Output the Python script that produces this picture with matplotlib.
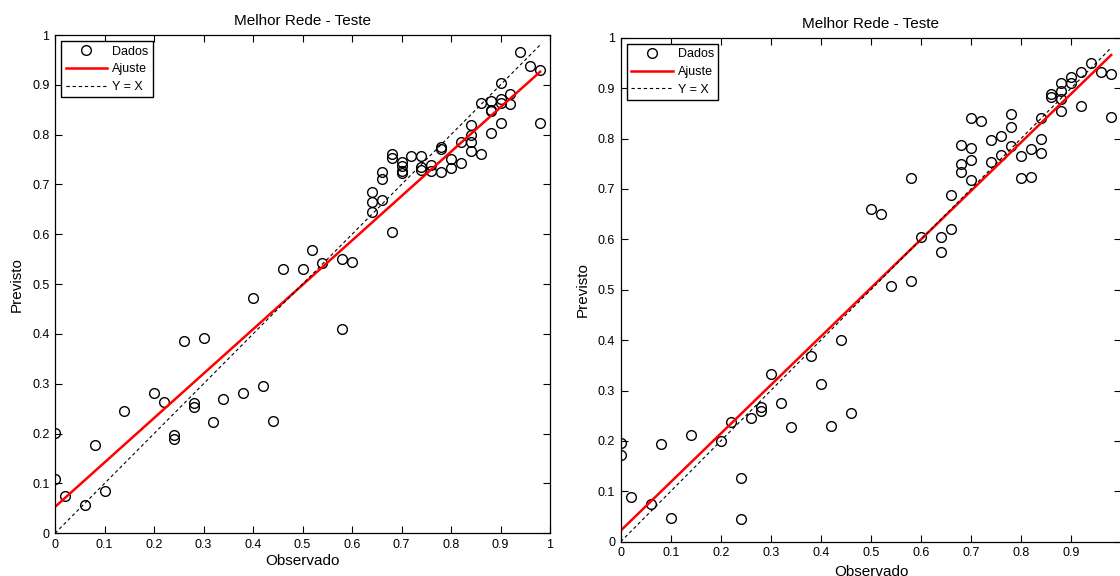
import numpy as np
import matplotlib
matplotlib.use("Agg")
import matplotlib.pyplot as plt

plt.rcParams['font.family'] = ['Liberation Sans', 'DejaVu Sans']

# painel esquerdo
obs_esq = [0.00, 0.00, 0.02, 0.06, 0.10, 0.08, 0.14, 0.20, 0.22, 0.24,
           0.24, 0.26, 0.30, 0.28, 0.28, 0.32, 0.34, 0.38, 0.40, 0.42,
           0.44, 0.58, 0.46, 0.50, 0.52, 0.54, 0.58, 0.60, 0.68, 0.64,
           0.64, 0.64, 0.66, 0.66, 0.66, 0.68, 0.68, 0.70, 0.70, 0.70,
           0.70, 0.72, 0.74, 0.74, 0.74, 0.76, 0.76, 0.78, 0.78, 0.78,
           0.80, 0.80, 0.82, 0.82, 0.84, 0.84, 0.84, 0.84, 0.86, 0.86,
           0.88, 0.88, 0.88, 0.88, 0.90, 0.90, 0.90, 0.90, 0.92, 0.92,
           0.94, 0.96, 0.98, 0.98]
prev_esq = [0.202, 0.109, 0.075, 0.057, 0.085, 0.177, 0.245, 0.282, 0.264, 0.197,
            0.189, 0.385, 0.392, 0.262, 0.254, 0.223, 0.270, 0.282, 0.472, 0.296,
            0.225, 0.410, 0.531, 0.531, 0.568, 0.543, 0.551, 0.544, 0.605, 0.685,
            0.664, 0.644, 0.669, 0.725, 0.711, 0.762, 0.753, 0.746, 0.738, 0.728,
            0.724, 0.758, 0.758, 0.735, 0.730, 0.740, 0.728, 0.776, 0.772, 0.726,
            0.751, 0.733, 0.785, 0.743, 0.820, 0.800, 0.786, 0.768, 0.863, 0.762,
            0.867, 0.850, 0.848, 0.804, 0.903, 0.871, 0.863, 0.824, 0.882, 0.861,
            0.965, 0.938, 0.930, 0.824]
ajuste_esq = (0.891, 0.053)  # inclinacao, intercepto

# painel direito
obs_dir = [0.00, 0.00, 0.02, 0.06, 0.10, 0.08, 0.14, 0.20, 0.22, 0.24,
           0.24, 0.26, 0.28, 0.28, 0.30, 0.32, 0.34, 0.38, 0.40, 0.42,
           0.44, 0.46, 0.54, 0.58, 0.50, 0.52, 0.58, 0.60, 0.64, 0.64,
           0.66, 0.66, 0.68, 0.68, 0.68, 0.70, 0.70, 0.70, 0.70, 0.72,
           0.74, 0.74, 0.76, 0.76, 0.78, 0.78, 0.78, 0.80, 0.80, 0.82,
           0.82, 0.84, 0.84, 0.84, 0.86, 0.86, 0.88, 0.88, 0.88, 0.88,
           0.90, 0.90, 0.92, 0.92, 0.94, 0.96, 0.98, 0.98]
prev_dir = [0.196, 0.173, 0.089, 0.075, 0.048, 0.194, 0.212, 0.200, 0.237, 0.126,
            0.046, 0.246, 0.267, 0.259, 0.333, 0.275, 0.228, 0.368, 0.313, 0.230,
            0.400, 0.255, 0.507, 0.517, 0.660, 0.650, 0.721, 0.605, 0.605, 0.574,
            0.620, 0.687, 0.787, 0.749, 0.734, 0.840, 0.782, 0.757, 0.718, 0.834,
            0.798, 0.753, 0.805, 0.767, 0.848, 0.822, 0.786, 0.765, 0.721, 0.779,
            0.723, 0.840, 0.799, 0.771, 0.888, 0.883, 0.911, 0.895, 0.878, 0.854,
            0.923, 0.910, 0.931, 0.865, 0.949, 0.931, 0.928, 0.842]
ajuste_dir = (0.963, 0.022)

ticks = np.arange(0, 1.01, 0.1)
tick_labels = ['0', '0.1', '0.2', '0.3', '0.4', '0.5', '0.6', '0.7', '0.8', '0.9', '1']

fig = plt.figure(figsize=(11.2, 5.76), dpi=100)
ax1 = fig.add_axes([55 / 1120, 1 - 533.3 / 576, 495 / 1120, 498.3 / 576])
ax2 = fig.add_axes([620.7 / 1120, 1 - 541.7 / 576, 500.5 / 1120, 504 / 576])


def painel(ax, obs, prev, ajuste, xpad):
    obs = np.array(obs)
    prev = np.array(prev)
    ax.plot(obs, prev, 'o', mfc='none', mec='black', ms=7, mew=1.0, label='Dados')
    xs = np.array([obs.min(), obs.max()])
    ax.plot(xs, ajuste[0] * xs + ajuste[1], color='red', lw=1.8, label='Ajuste')
    ax.plot(xs, xs, '--', color='black', lw=0.8, dashes=(3, 2.5), label='Y = X')
    ax.set_xlim(0, 1)
    ax.set_ylim(0, 1)
    ax.set_xticks(ticks)
    ax.set_xticklabels(tick_labels)
    ax.set_yticks(ticks)
    ax.set_yticklabels(tick_labels)
    ax.tick_params(direction='in', top=True, right=True, length=5, labelsize=9, pad=4)
    for s in ax.spines.values():
        s.set_linewidth(0.9)
    ax.set_title('Melhor Rede - Teste', fontsize=11, pad=7)
    ax.set_xlabel('Observado', fontsize=11, labelpad=xpad)
    ax.set_ylabel('Previsto', fontsize=11, labelpad=6)
    ax.legend(loc='upper left', fancybox=False, edgecolor='black', framealpha=1,
              fontsize=9, handlelength=3.3, borderaxespad=0.5, borderpad=0.35,
              labelspacing=0.45, handletextpad=0.4)


painel(ax1, obs_esq, prev_esq, ajuste_esq, 2)
painel(ax2, obs_dir, prev_dir, ajuste_dir, 4)

fig.savefig('out.png', dpi=100)
